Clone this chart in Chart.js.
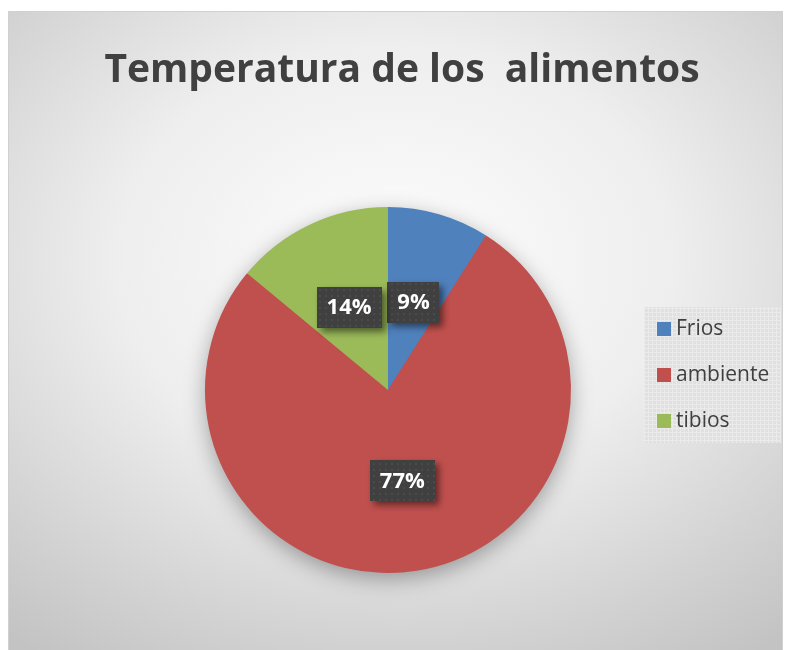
<!DOCTYPE html>
<html>
<head>
<meta charset="utf-8">
<script src="https://cdn.jsdelivr.net/npm/chart.js@4/dist/chart.umd.min.js"></script>
<style>
  html, body { margin: 0; padding: 0; background: #fff; }
  #wrap { position: absolute; left: 0; top: 0; width: 786px; height: 650px; }
</style>
</head>
<body>
<div id="wrap"><canvas id="pieChart" width="786" height="650"></canvas></div>
<script>
const chartTitle = "Temperatura de los  alimentos";
const categories = ["Frios", "ambiente", "tibios"];
const percentages = [9, 77, 14];
const sliceColors = ["#4f81bd", "#c0504d", "#9bbb59"];

// small tile patterns like the office chart fills
function makePattern(base, spot, size, grid) {
  const c = document.createElement("canvas");
  c.width = size;
  c.height = size;
  const g = c.getContext("2d");
  g.fillStyle = base;
  g.fillRect(0, 0, size, size);
  g.fillStyle = spot;
  if (grid) {
    g.fillRect(0, 0, size, 1);
    g.fillRect(0, 0, 1, size);
  } else {
    g.fillRect(1, 1, 2, 2);
  }
  return c;
}

const framePlugin = {
  id: "frame",
  beforeDraw(chart) {
    const ctx = chart.ctx;
    ctx.save();
    ctx.fillStyle = "#ffffff";
    ctx.fillRect(0, 0, chart.width, chart.height);
    const fx = 8, fy = 11, fw = 775, fh = 650;
    const cx = 395, cy = 260, sx = 1.3;
    ctx.save();
    ctx.translate(cx, cy);
    ctx.scale(sx, 1);
    const grad = ctx.createRadialGradient(0, 0, 0, 0, 0, 480);
    grad.addColorStop(0, "#fdfdfd");
    grad.addColorStop(0.45, "#eeeeee");
    grad.addColorStop(0.8, "#d2d2d2");
    grad.addColorStop(1, "#c3c3c3");
    ctx.fillStyle = grad;
    ctx.fillRect((fx - cx) / sx, fy - cy, fw / sx, fh);
    ctx.restore();
    ctx.strokeStyle = "#d0d0d0";
    ctx.lineWidth = 1;
    ctx.strokeRect(fx + 0.5, fy + 0.5, fw - 1, fh);
    // title
    ctx.fillStyle = "#404040";
    ctx.font = "bold 39px 'Open Sans'";
    ctx.textAlign = "center";
    ctx.textBaseline = "alphabetic";
    ctx.fillText(chartTitle, 402, 82);
    ctx.restore();
  },
  beforeDatasetsDraw(chart) {
    // soft shadow under the pie
    const arc = chart.getDatasetMeta(0).data[0];
    if (!arc) return;
    const ctx = chart.ctx;
    ctx.save();
    ctx.shadowColor = "rgba(0,0,0,0.35)";
    ctx.shadowBlur = 22;
    ctx.shadowOffsetY = 6;
    ctx.fillStyle = sliceColors[1];
    ctx.beginPath();
    ctx.arc(arc.x, arc.y, arc.outerRadius - 1, 0, Math.PI * 2);
    ctx.fill();
    ctx.restore();
  },
  afterDatasetsDraw(chart) {
    const ctx = chart.ctx;
    const pat = ctx.createPattern(makePattern("#404040", "#4b4b4b", 6, false), "repeat");
    ctx.save();
    ctx.font = "bold 22px 'Open Sans'";
    ctx.textAlign = "center";
    ctx.textBaseline = "middle";
    chart.getDatasetMeta(0).data.forEach((arc, i) => {
      const p = arc.tooltipPosition();
      const txt = percentages[i] + "%";
      const w = ctx.measureText(txt).width + 20;
      const h = 41;
      ctx.save();
      ctx.shadowColor = "rgba(0,0,0,0.5)";
      ctx.shadowBlur = 7;
      ctx.shadowOffsetX = 4;
      ctx.shadowOffsetY = 4;
      ctx.fillStyle = pat;
      ctx.fillRect(Math.round(p.x - w / 2), Math.round(p.y - h / 2), Math.round(w), h);
      ctx.restore();
      ctx.fillStyle = "#ffffff";
      ctx.fillText(txt, p.x, p.y + 1);
    });
    ctx.restore();
  },
  afterDraw(chart) {
    // legend on the right
    const ctx = chart.ctx;
    ctx.save();
    ctx.fillStyle = ctx.createPattern(makePattern("#e0e0e0", "#ebebeb", 4, true), "repeat");
    ctx.fillRect(644, 307, 137, 136);
    ctx.font = "21px 'Open Sans'";
    ctx.textBaseline = "middle";
    categories.forEach((name, i) => {
      const y = 329 + i * 46;
      ctx.fillStyle = sliceColors[i];
      ctx.fillRect(657, y - 7, 14, 14);
      ctx.fillStyle = "#404040";
      ctx.fillText(name, 676, y);
    });
    ctx.restore();
  }
};

const ctx = document.getElementById("pieChart").getContext("2d");
const pieChart = new Chart(ctx, {
  type: "pie",
  data: {
    labels: categories,
    datasets: [{
      data: percentages,
      backgroundColor: sliceColors,
      borderWidth: 0
    }]
  },
  options: {
    responsive: false,
    animation: false,
    layout: { padding: { left: 102, right: 112, top: 207, bottom: 77 } },
    plugins: {
      legend: { display: false },
      tooltip: { enabled: false },
      title: { display: false }
    }
  },
  plugins: [framePlugin]
});
</script>
</body>
</html>
